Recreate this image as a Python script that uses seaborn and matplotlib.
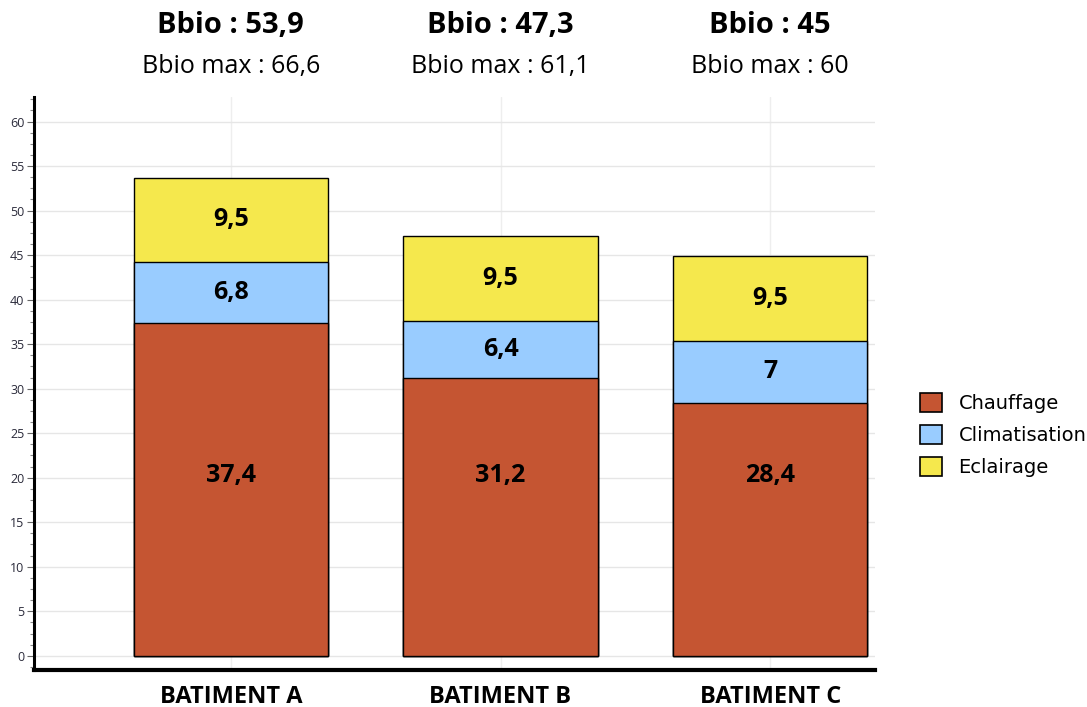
import matplotlib
matplotlib.use("Agg")
import matplotlib.pyplot as plt
from matplotlib.ticker import MultipleLocator
from matplotlib.patches import Patch
import numpy as np
import pandas as pd
import seaborn as sns

# données
batiments = ["BATIMENT A", "BATIMENT B", "BATIMENT C"]
chauffage = [37.4, 31.2, 28.4]
climatisation = [6.8, 6.4, 7.0]
eclairage = [9.5, 9.5, 9.5]
bbio = ["53,9", "47,3", "45"]
bbio_max = ["66,6", "61,1", "60"]

postes = ["Chauffage", "Climatisation", "Eclairage"]
couleurs = ["#C55532", "#99CCFF", "#F5E84D"]

sns.set_theme(style="white")
plt.rcParams['font.family'] = ['Open Sans', 'DejaVu Sans']
plt.rcParams['text.color'] = 'black'

df = pd.DataFrame({"batiment": batiments, "Chauffage": chauffage,
                   "Climatisation": climatisation, "Eclairage": eclairage})
df["cum1"] = df["Chauffage"]
df["cum2"] = df["cum1"] + df["Climatisation"]
df["cum3"] = df["cum2"] + df["Eclairage"]

fig = plt.figure(figsize=(10.87, 7.07), dpi=100)
ax = fig.add_axes([0.0313, 0.0523, 0.774, 0.811])

# barres empilées : on dessine les cumuls du plus haut au plus bas
for col, c in zip(["cum3", "cum2", "cum1"], couleurs[::-1]):
    sns.barplot(data=df, x="batiment", y=col, color=c, width=0.72,
                edgecolor="black", linewidth=1, errorbar=None, ax=ax,
                saturation=1)

# étiquettes des segments (le chauffage est étiqueté à hauteur fixe)
fmt = lambda v: ("%g" % v).replace(".", ",")
for i in range(len(batiments)):
    ax.text(i, 20.2, fmt(chauffage[i]), ha="center", va="center",
            fontsize=18, fontweight="bold")
    ax.text(i, chauffage[i] + climatisation[i] / 2, fmt(climatisation[i]),
            ha="center", va="center", fontsize=18, fontweight="bold")
    ax.text(i, chauffage[i] + climatisation[i] + eclairage[i] / 2,
            fmt(eclairage[i]), ha="center", va="center", fontsize=18,
            fontweight="bold")

ax.set_xlim(-0.73, 2.39)
ax.set_ylim(-1.6, 62.8)
ax.set_xlabel("")
ax.set_ylabel("")
ax.set_xticks(range(len(batiments)))
ax.set_xticklabels([])
ax.yaxis.set_major_locator(MultipleLocator(5))
ax.yaxis.set_minor_locator(MultipleLocator(1.25))
ax.tick_params(axis="y", which="major", left=True, length=5, width=0.8,
               labelsize=9, labelcolor="#2a2a3a", color="#666666", pad=2)
ax.tick_params(axis="y", which="minor", left=True, length=3, width=0.8,
               color="#888888")
ax.tick_params(axis="x", length=0)
ax.grid(axis="y", which="major", color="#e6e6e6", linewidth=1)
ax.grid(axis="x", which="major", color="#eeeeee", linewidth=1)
ax.set_axisbelow(True)
for s in ["top", "right"]:
    ax.spines[s].set_visible(False)
ax.spines["left"].set_linewidth(2.2)
ax.spines["left"].set_color("black")
ax.spines["bottom"].set_linewidth(3)
ax.spines["bottom"].set_color("black")

# noms des bâtiments sous l'axe
for i, b in enumerate(batiments):
    ax.text(i, -4.6, b, ha="center", va="center",
            fontsize=17, fontweight="bold", clip_on=False)

# titres Bbio au-dessus
for i in range(len(batiments)):
    ax.text(i, 70.8, "Bbio : " + bbio[i], ha="center", va="center",
            fontsize=21, fontweight="bold", clip_on=False)
    ax.text(i, 66.2, "Bbio max : " + bbio_max[i], ha="center",
            va="center", fontsize=18, clip_on=False)

handles = [Patch(facecolor=c, edgecolor="black", linewidth=1.2)
           for c in couleurs]
fig.legend(handles, postes, loc="center left", bbox_to_anchor=(0.83, 0.385),
           frameon=False, handlelength=1.15, handleheight=1.15,
           handletextpad=0.85, labelspacing=0.6,
           prop={"family": "DejaVu Sans", "size": 14})

fig.savefig("out.png", dpi=100)
